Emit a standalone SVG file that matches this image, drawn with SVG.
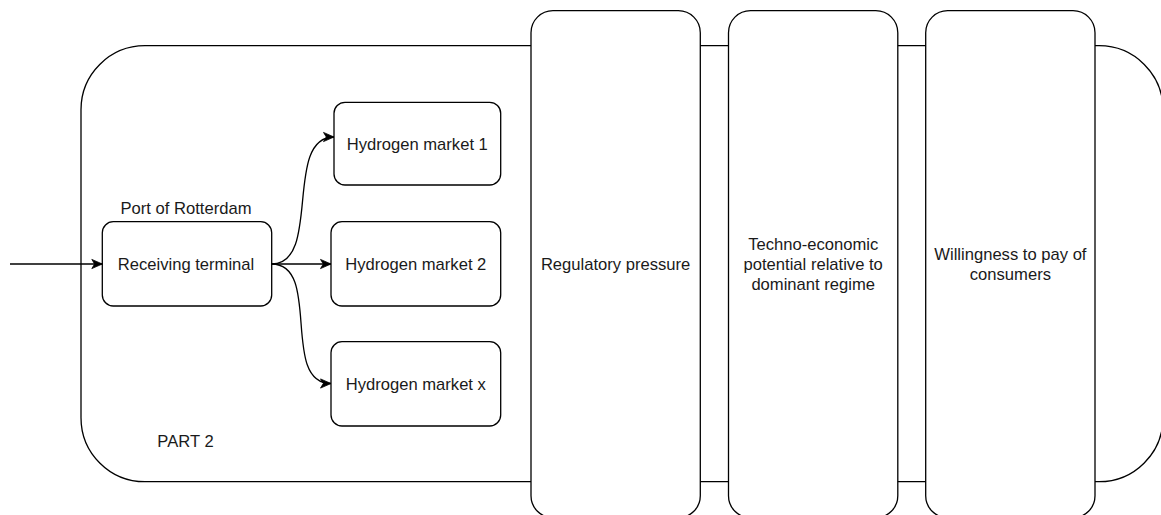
<svg xmlns="http://www.w3.org/2000/svg" width="1161" height="515" viewBox="0 0 1161 515">
<style>
.box{fill:#ffffff;stroke:#000000;stroke-width:1.3}
.t{font-family:"Liberation Sans",Arial,Helvetica,sans-serif;font-size:16.6px;fill:#1a1a1a;text-anchor:middle}
.edge{fill:none;stroke:#000000;stroke-width:1.3}
</style>
<defs>
<marker id="arr" markerUnits="userSpaceOnUse" markerWidth="14" markerHeight="12" viewBox="-1 -6 14 12" refX="10.5" refY="0" orient="auto">
<path d="M0,-4.6 L10.5,0 L0,4.6 L2.8,0 Z" fill="#000000" stroke="#000000" stroke-width="0.8" stroke-linejoin="miter"/>
</marker>
</defs>
<rect width="1161" height="515" fill="#ffffff"/>
<g id="part2">
<rect class="box" x="81" y="45.7" width="1082" height="436" rx="64" ry="64"/>
<text class="t" x="185.5" y="446.5">PART 2</text>
</g>
<g id="regulatory">
<rect class="box" x="531" y="10.7" width="169.3" height="507" rx="22" ry="22"/>
<text class="t" x="615.6" y="270">Regulatory pressure</text>
</g>
<g id="techno">
<rect class="box" x="728.5" y="10.7" width="169.3" height="507" rx="22" ry="22"/>
<text class="t" x="813.2" y="249.8">Techno-economic</text>
<text class="t" x="813.2" y="269.8">potential relative to</text>
<text class="t" x="813.2" y="289.8">dominant regime</text>
</g>
<g id="willingness">
<rect class="box" x="925.7" y="10.7" width="169.3" height="507" rx="22" ry="22"/>
<text class="t" x="1010.4" y="259.8">Willingness to pay of</text>
<text class="t" x="1010.4" y="279.8">consumers</text>
</g>
<g id="receiving">
<text class="t" x="186" y="214">Port of Rotterdam</text>
<rect class="box" x="102.3" y="221.7" width="169.4" height="84.3" rx="11" ry="11"/>
<text class="t" x="186" y="270">Receiving terminal</text>
</g>
<g id="market1">
<rect class="box" x="334" y="102.3" width="166.7" height="82.7" rx="11" ry="11"/>
<text class="t" x="417.3" y="149.6">Hydrogen market 1</text>
</g>
<g id="market2">
<rect class="box" x="331" y="221.7" width="169.7" height="84.3" rx="11" ry="11"/>
<text class="t" x="415.8" y="270">Hydrogen market 2</text>
</g>
<g id="marketx">
<rect class="box" x="331" y="341.7" width="169.7" height="84.3" rx="11" ry="11"/>
<text class="t" x="415.8" y="389.8">Hydrogen market x</text>
</g>
<g id="connectors">
<path class="edge" d="M10,264 L102.3,264" marker-end="url(#arr)"/>
<path class="edge" d="M271.7,264 L331,264" marker-end="url(#arr)"/>
<path class="edge" d="M271.7,264 C322,264 283,137 334,137" marker-end="url(#arr)"/>
<path class="edge" d="M271.7,264 C322,264 280,383.5 331,383.5" marker-end="url(#arr)"/>
</g>
</svg>
